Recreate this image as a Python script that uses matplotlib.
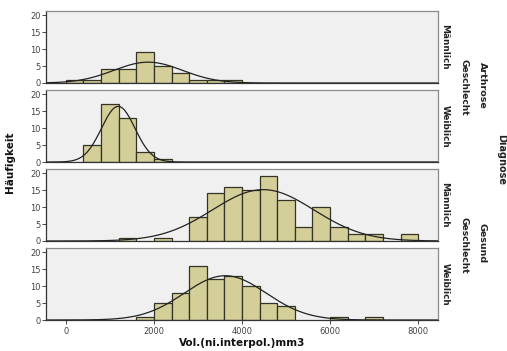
import numpy as np
import matplotlib
matplotlib.use('Agg')
import matplotlib.pyplot as plt

# histogram bins (400 mm3 wide) and counts per panel
bin_edges = np.arange(0, 8001, 400)
counts_arthrose_m = [1, 1, 4, 4, 9, 5, 3, 1, 1, 1, 0, 0, 0, 0, 0, 0, 0, 0, 0, 0]
counts_arthrose_w = [0, 5, 17, 13, 3, 1, 0, 0, 0, 0, 0, 0, 0, 0, 0, 0, 0, 0, 0, 0]
counts_gesund_m = [0, 0, 0, 1, 0, 1, 0, 7, 14, 16, 15, 19, 12, 4, 10, 4, 2, 2, 0, 2]
counts_gesund_w = [0, 0, 0, 0, 1, 5, 8, 16, 12, 13, 10, 5, 4, 0, 0, 1, 0, 1, 0, 0]

# normal curve (mean, sd)
curve_params = [(1870, 780), (1190, 380), (4480, 1150), (3620, 930)]

sex_labels = ['Männlich', 'Weiblich', 'Männlich', 'Weiblich']
diag_labels = ['Arthrose', 'Gesund']
yticks = [0, 5, 10, 15, 20]
xticks = [0, 2000, 4000, 6000, 8000]

all_counts = [counts_arthrose_m, counts_arthrose_w, counts_gesund_m, counts_gesund_w]

W, H = 507, 351
fig = plt.figure(figsize=(W / 100, H / 100), dpi=100)

left, right = 46 / W, 438 / W
tops = [11, 90, 169, 248]
ph = 72

bar_col = '#d4cf98'
bg = '#f0f0f0'
tick_col = '#444444'

x = np.linspace(-450, 8450, 600)
for i, counts in enumerate(all_counts):
    y0 = 1 - (tops[i] + ph) / H
    ax = fig.add_axes([left, y0, right - left, ph / H])
    ax.set_facecolor(bg)
    # skip empty bins so no outline is drawn there
    nz = [j for j, c in enumerate(counts) if c > 0]
    ax.bar(bin_edges[nz], [counts[j] for j in nz], width=400, align='edge', color=bar_col,
           edgecolor='#333326', linewidth=0.9, zorder=2)
    m, s = curve_params[i]
    n = sum(counts)
    ax.plot(x, n * 400 / (s * np.sqrt(2 * np.pi)) * np.exp(-0.5 * ((x - m) / s) ** 2),
            color='#222222', lw=0.9, zorder=3)
    ax.set_xlim(-450, 8450)
    ax.set_ylim(0, 21.2)
    ax.set_yticks(yticks)
    ax.tick_params(axis='y', labelsize=6, colors=tick_col, length=3, width=0.7, pad=1)
    ax.set_xticks(xticks)
    if i < 3:
        ax.tick_params(axis='x', bottom=False, labelbottom=False)
    else:
        ax.tick_params(axis='x', labelsize=6, colors=tick_col, length=3, width=0.7, pad=2)
    for sp in ['top', 'right']:
        ax.spines[sp].set_color('#8a8a8a')
    for sp in ['left', 'bottom']:
        ax.spines[sp].set_color('#333333')
    for sp in ax.spines.values():
        sp.set_linewidth(0.9)
    fig.text(445 / W, 1 - (tops[i] + ph / 2) / H, sex_labels[i], rotation=-90,
             ha='center', va='center', fontsize=6.4, fontweight='bold', color='#222222')

# facet labels on the right
for k, lab in enumerate(diag_labels):
    yc = 1 - (tops[2 * k] + ph + 4) / H
    fig.text(464 / W, yc, 'Geschlecht', rotation=-90, ha='center', va='center',
             fontsize=6.6, fontweight='bold', color='#222222')
    fig.text(482 / W, yc + 2 / H, lab, rotation=-90, ha='center', va='center',
             fontsize=6.8, fontweight='bold', color='#222222')
fig.text(501 / W, 1 - 160 / H, 'Diagnose', rotation=-90, ha='center', va='center',
         fontsize=7, fontweight='bold', color='#222222')

fig.text(10 / W, 1 - 162 / H, 'Häufigkeit', rotation=90, ha='center', va='center',
         fontsize=7.5, fontweight='bold', color='#111111')
fig.text(242 / W, 1 - 343 / H, 'Vol.(ni.interpol.)mm3', ha='center', va='center',
         fontsize=7.5, fontweight='bold', color='#111111')

fig.savefig('out.png', dpi=100, facecolor='white')
